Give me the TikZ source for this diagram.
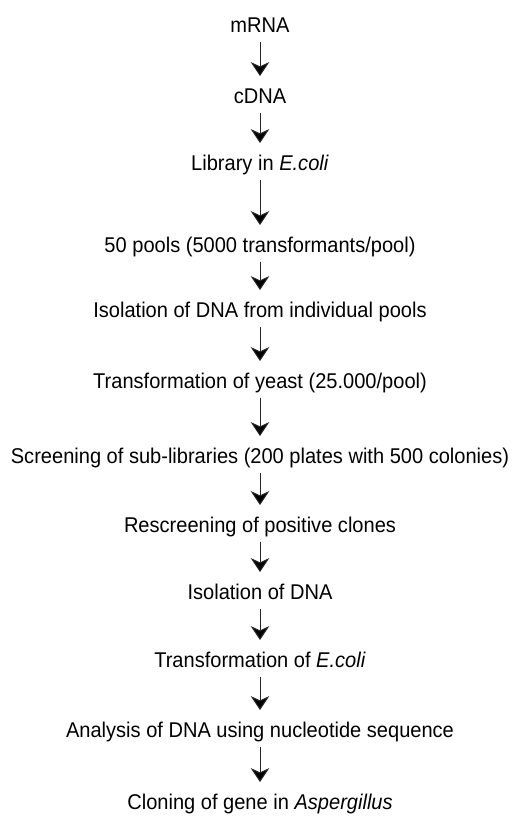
\documentclass[tikz,border=0pt]{standalone}
\usepackage{fontspec}
\setmainfont[FakeStretch=0.94]{Liberation Sans}
\usetikzlibrary{arrows.meta}
\tikzset{
  stepnode/.style={inner sep=0pt, anchor=base, text height=11pt, text depth=3pt, font=\fontsize{16pt}{19pt}\selectfont},
  flowarrow/.style={draw=black!85, line width=0.6pt,
    -{Stealth[length=10.5pt, width=14pt, inset=3.2pt, fill=black, line width=0.8pt]},
    shorten <=4pt, shorten >=9pt}
}
\begin{document}
\begin{tikzpicture}[x=0.75pt,y=-0.75pt]
\useasboundingbox (0,0) rectangle (517,818);
\node[stepnode] (n1) at (260,32) {mRNA};
\node[stepnode] (n2) at (260,103) {cDNA};
\node[stepnode] (n3) at (260,170) {Library in \textit{E.coli}};
\node[stepnode] (n4) at (260,252) {50 pools (5000 transformants/pool)};
\node[stepnode] (n5) at (260,317) {Isolation of DNA from individual pools};
\node[stepnode] (n6) at (260,388) {Transformation of yeast (25.000/pool)};
\node[stepnode] (n7) at (260,463) {Screening of sub-libraries (200 plates with 500 colonies)};
\node[stepnode] (n8) at (260,532) {Rescreening of positive clones};
\node[stepnode] (n9) at (260,599) {Isolation of DNA};
\node[stepnode] (n10) at (260,667) {Transformation of \textit{E.coli}};
\node[stepnode] (n11) at (260,737) {Analysis of DNA using nucleotide sequence};
\node[stepnode] (n12) at (260,809) {Cloning of gene in \textit{Aspergillus}};
\foreach \a/\b in {n1/n2,n2/n3,n3/n4,n4/n5,n5/n6,n6/n7,n7/n8,n8/n9,n9/n10,n10/n11,n11/n12}
  \draw[flowarrow] (\a.south) -- (\b.north);
\end{tikzpicture}
\end{document}
